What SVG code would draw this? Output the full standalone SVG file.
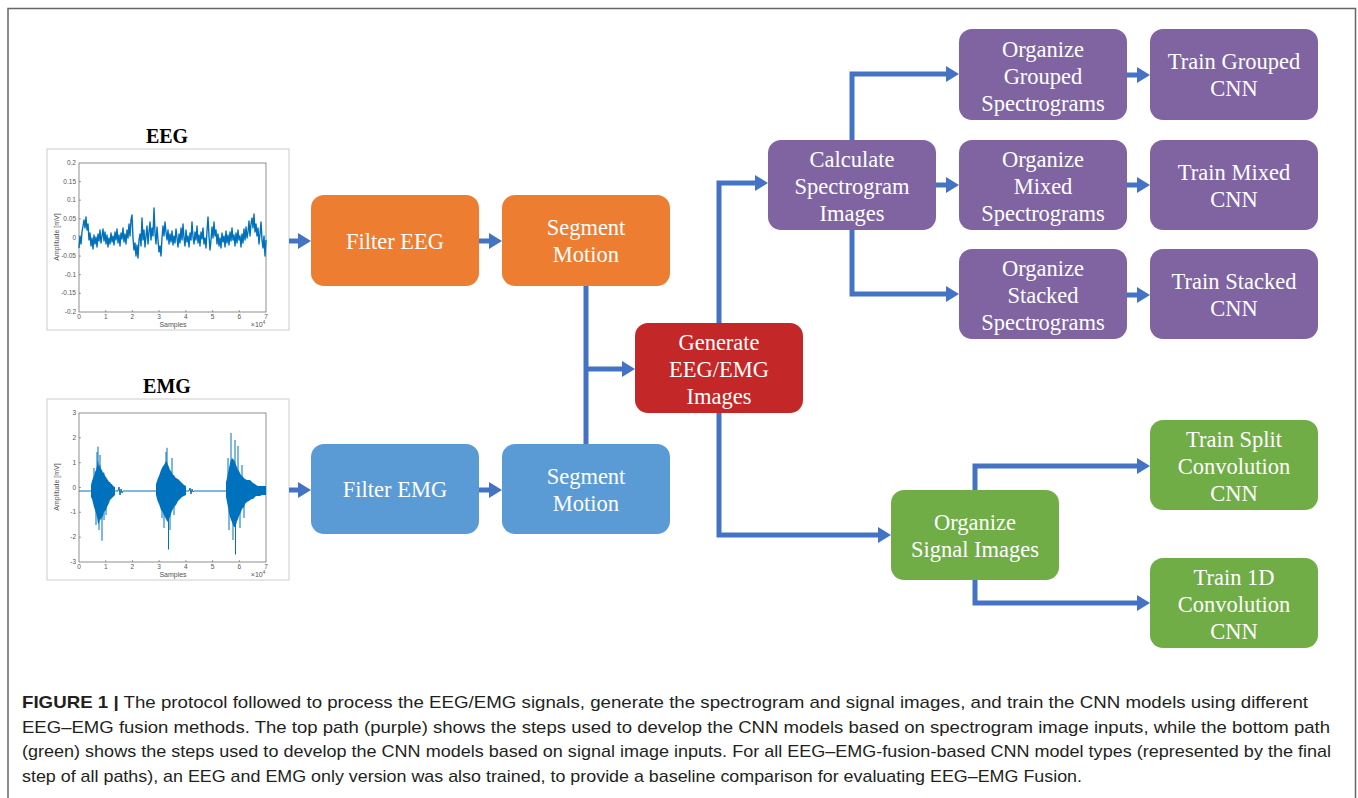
<svg xmlns="http://www.w3.org/2000/svg" width="1358" height="798" viewBox="0 0 1358 798">
<defs>
<style>
.node text{font-family:"Liberation Serif","Times New Roman",serif;font-size:22.5px;fill:#fff;text-anchor:middle}
.orange{fill:#ED7D31}.lblue{fill:#5B9BD5}.red{fill:#C42727}.purple{fill:#8064A2}.green{fill:#70AD47}
.conn path{fill:none;stroke:#4472C4;stroke-width:5;stroke-linejoin:miter}
.arr{marker-end:url(#ah)}
.tick{font-family:"Liberation Sans",Arial,sans-serif;font-size:6.5px;fill:#555}
.axl{font-family:"Liberation Sans",Arial,sans-serif;font-size:7px;fill:#555}
.ttl{font-family:"Liberation Serif","Times New Roman",serif;font-size:20px;font-weight:bold;fill:#000;text-anchor:middle}
.cap{font-family:"Liberation Sans",Arial,sans-serif;font-size:17px;fill:#231F20}
.sig{fill:none;stroke:#0072BD;stroke-width:1}
.sig2{fill:none;stroke:#0072BD;stroke-width:1.4;stroke-linejoin:round}
</style>
<marker id="ah" markerUnits="userSpaceOnUse" markerWidth="14" markerHeight="16" refX="3" refY="8" orient="auto">
<path d="M0,0 L13,8 L0,16 Z" fill="#4472C4"/>
</marker>
</defs>
<rect x="0" y="0" width="1358" height="798" fill="#fff"/>
<path d="M8,805 V8.5 H1355.5 V805" fill="none" stroke="#666" stroke-width="1.5"/>

<!-- EEG plot -->
<g id="eeg-plot">
<text class="ttl" x="167" y="143">EEG</text>
<rect x="47" y="149" width="242" height="181" fill="#fff" stroke="#ccc" stroke-width="1"/>
<rect x="79" y="163" width="187" height="149" fill="#fff" stroke="#444" stroke-width="0.6"/>
<g class="tick" text-anchor="end">
<text x="76" y="165">0.2</text><text x="76" y="183.6">0.15</text><text x="76" y="202.2">0.1</text><text x="76" y="220.8">0.05</text><text x="76" y="239.5">0</text><text x="76" y="258.1">-0.05</text><text x="76" y="276.7">-0.1</text><text x="76" y="295.3">-0.15</text><text x="76" y="314">-0.2</text>
</g>
<g class="tick" text-anchor="middle">
<text x="79" y="319">0</text><text x="105.7" y="319">1</text><text x="132.4" y="319">2</text><text x="159.1" y="319">3</text><text x="185.9" y="319">4</text><text x="212.6" y="319">5</text><text x="239.3" y="319">6</text><text x="266" y="319">7</text>
</g>
<text class="axl" x="173" y="327" text-anchor="middle">Samples</text>
<text class="axl" x="258" y="327" text-anchor="middle">×10<tspan font-size="4.5" dy="-3">4</tspan></text>
<text class="axl" transform="translate(59,237) rotate(-90)" text-anchor="middle">Amplitude [mV]</text>
<path d="M79,181.6h2M79,200.2h2M79,218.8h2M79,237.5h2M79,256.1h2M79,274.7h2M79,293.3h2M105.7,312v-2M132.4,312v-2M159.1,312v-2M185.9,312v-2M212.6,312v-2M239.3,312v-2" stroke="#444" stroke-width="0.5"/>
<polyline class="sig2" points="79,248 80,236 81,244 82,232 83,226 84,220 85,228 86,217 87,230 88,224 89,240 90,233 91,246 92,238 93,249 94,235 95,244 96,237 97,247 98,234 99,241 100,230 101,243 102,236 103,229 104,241 105,232 106,244 107,235 108,247 109,238 110,244 111,233 112,242 113,236 114,245 115,232 116,240 117,229 118,243 119,235 120,246 121,233 122,239 123,228 124,242 125,234 126,244 127,230 128,238 129,224 130,236 131,220 132,215 133,238 134,250 135,243 136,256 137,245 138,258 139,240 140,234 141,246 142,218 143,240 144,230 145,247 146,236 147,226 148,244 149,232 150,222 151,240 152,228 153,236 154,208 155,233 156,244 157,227 158,240 159,252 160,246 161,256 162,238 163,226 164,236 165,222 166,232 167,240 168,230 169,244 170,234 171,242 172,231 173,245 174,236 175,243 176,229 177,238 178,247 179,234 180,243 181,228 182,240 183,224 184,238 185,246 186,230 187,242 188,236 189,247 190,233 191,240 192,222 193,237 194,244 195,232 196,240 197,226 198,243 199,235 200,246 201,232 202,239 203,228 204,244 205,238 206,248 207,231 208,217 209,236 210,250 211,240 212,227 213,238 214,222 215,236 216,230 217,244 218,234 219,246 220,238 221,248 222,233 223,242 224,236 225,247 226,231 227,243 228,235 229,245 230,232 231,241 232,228 233,240 234,235 235,246 236,233 237,243 238,230 239,240 240,236 241,247 242,234 243,243 244,229 245,240 246,227 247,238 248,232 249,221 250,236 251,224 252,218 253,228 254,214 255,232 256,224 257,236 258,228 259,244 260,234 261,222 262,240 263,248 264,236 265,256 266,240"/>
</g>

<!-- EMG plot -->
<g id="emg-plot">
<text class="ttl" x="167" y="393">EMG</text>
<rect x="47" y="399" width="242" height="181" fill="#fff" stroke="#ccc" stroke-width="1"/>
<rect x="79" y="413" width="187" height="149" fill="#fff" stroke="#444" stroke-width="0.6"/>
<g class="tick" text-anchor="end">
<text x="76" y="415">3</text><text x="76" y="439.8">2</text><text x="76" y="464.7">1</text><text x="76" y="489.5">0</text><text x="76" y="514.3">-1</text><text x="76" y="539.2">-2</text><text x="76" y="564">-3</text>
</g>
<g class="tick" text-anchor="middle">
<text x="79" y="569">0</text><text x="105.7" y="569">1</text><text x="132.4" y="569">2</text><text x="159.1" y="569">3</text><text x="185.9" y="569">4</text><text x="212.6" y="569">5</text><text x="239.3" y="569">6</text><text x="266" y="569">7</text>
</g>
<text class="axl" x="173" y="577" text-anchor="middle">Samples</text>
<text class="axl" x="258" y="577" text-anchor="middle">×10<tspan font-size="4.5" dy="-3">4</tspan></text>
<text class="axl" transform="translate(59,487) rotate(-90)" text-anchor="middle">Amplitude [mV]</text>
<path d="M79,437.8h2M79,462.7h2M79,487.5h2M79,512.3h2M79,537.2h2M105.7,562v-2M132.4,562v-2M159.1,562v-2M185.9,562v-2M212.6,562v-2M239.3,562v-2" stroke="#444" stroke-width="0.5"/>
<path class="sig" d="M79,491 H91 M115,491 H118 L119,487 L120,495 L121,489 L122,493 L123,491 H156 M186,491 H189 L190,488 L191,494 L192,489 L193,492 L194,491 H226"/>
<g fill="#0072BD">
<polygon points="91,485 92,481 93,478 94,476 95,472 96,470 97,466 98,460 99,467 100,464 101,469 102,470 103,473 104,472 105,476 106,477 107,479 108,480 109,482 110,482 111,484 112,484 113,486 115,487 115,495 114,496 113,497 112,498 111,499 110,500 109,503 108,505 107,507 106,510 105,511 104,512 103,516 102,517 101,520 100,519 99,523 98,524 97,517 96,513 95,510 94,507 93,503 92,499 91,497"/>
<polygon points="156,484 157,481 158,478 159,476 160,473 161,470 162,468 163,466 164,465 165,463 166,461 167,462 168,465 169,467 170,470 171,471 172,473 173,475 174,475 175,477 176,478 178,479 179,480 180,481 182,483 184,485 186,486 186,495 184,496 182,497 180,499 179,500 178,501 176,505 175,506 174,507 173,509 172,511 171,514 170,517 169,519 168,522 167,521 166,519 165,517 164,515 163,513 162,511 161,510 160,507 159,504 158,502 157,499 156,495"/>
<polygon points="226,482 227,478 228,473 229,468 230,463 231,460 232,458 233,459 234,460 235,462 236,465 237,467 238,470 239,471 240,473 241,475 242,476 244,478 245,479 247,480 249,480 250,480 252,482 253,483 255,484 256,485 258,486 260,486 262,486 264,486 266,486 266,495 264,495 262,495 260,496 258,496 256,496 255,497 253,499 252,499 250,500 249,501 247,502 245,504 244,507 242,509 241,512 240,514 239,516 238,519 237,521 236,525 235,527 234,527 233,525 232,522 231,520 230,517 229,513 228,507 227,502 226,497"/>
</g>
<path class="sig" d="M98,487V446.6M97,490V452M100,487V455M102,490V540.8M96,490V525M99,490V530M104,490V520M94,488V468M106,490V515 M167,487V447.8M166,487V452M168.5,490V549.5M170,490V530M164,490V528M172,487V458M162,490V518M174,490V515 M231,487V432.9M235,487V440M235.5,490V554.5M233,490V540M238,487V446M229,490V530M240,490V528M242,488V465M244,490V518M228,488V458"/>
</g>

<!-- Connectors -->
<g id="connectors" class="conn">
<path class="arr" d="M289,241 H301"/>
<path class="arr" d="M479,241 H492"/>
<path class="arr" d="M289,490 H301"/>
<path class="arr" d="M479,490 H492"/>
<path d="M586,286 V444"/>
<path class="arr" d="M586,369 H625"/>
<path class="arr" d="M719,323 V183 H758"/>
<path class="arr" d="M719,413 V535 H881"/>
<path class="arr" d="M852,140 V74 H949"/>
<path class="arr" d="M936,185 H949"/>
<path class="arr" d="M852,230 V294 H949"/>
<path class="arr" d="M1127,75 H1140"/>
<path class="arr" d="M1127,185 H1140"/>
<path class="arr" d="M1127,295 H1140"/>
<path class="arr" d="M975,490 V466 H1140"/>
<path class="arr" d="M975,580 V603 H1140"/>
</g>

<!-- Nodes -->
<g id="filter-eeg" class="node"><rect class="orange" x="311" y="195" width="168" height="91" rx="13"/><text x="395" y="248.5">Filter EEG</text></g>
<g id="segment-eeg" class="node"><rect class="orange" x="502" y="195" width="168" height="91" rx="13"/><text x="586" y="235">Segment</text><text x="586" y="262">Motion</text></g>
<g id="filter-emg" class="node"><rect class="lblue" x="311" y="444" width="168" height="90" rx="13"/><text x="395" y="497">Filter EMG</text></g>
<g id="segment-emg" class="node"><rect class="lblue" x="502" y="444" width="168" height="90" rx="13"/><text x="586" y="483.5">Segment</text><text x="586" y="510.5">Motion</text></g>
<g id="generate" class="node"><rect class="red" x="635" y="323" width="168" height="90" rx="13"/><text x="719" y="350">Generate</text><text x="719" y="377">EEG/EMG</text><text x="719" y="404">Images</text></g>
<g id="calculate" class="node"><rect class="purple" x="768" y="140" width="168" height="90" rx="13"/><text x="852" y="167">Calculate</text><text x="852" y="194">Spectrogram</text><text x="852" y="221">Images</text></g>
<g id="org-grouped" class="node"><rect class="purple" x="959" y="29" width="168" height="91" rx="13"/><text x="1043" y="56.5">Organize</text><text x="1043" y="83.5">Grouped</text><text x="1043" y="110.5">Spectrograms</text></g>
<g id="org-mixed" class="node"><rect class="purple" x="959" y="140" width="168" height="90" rx="13"/><text x="1043" y="167">Organize</text><text x="1043" y="194">Mixed</text><text x="1043" y="221">Spectrograms</text></g>
<g id="org-stacked" class="node"><rect class="purple" x="959" y="249" width="168" height="90" rx="13"/><text x="1043" y="276">Organize</text><text x="1043" y="303">Stacked</text><text x="1043" y="330">Spectrograms</text></g>
<g id="train-grouped" class="node"><rect class="purple" x="1150" y="29" width="168" height="91" rx="13"/><text x="1234" y="69">Train Grouped</text><text x="1234" y="96">CNN</text></g>
<g id="train-mixed" class="node"><rect class="purple" x="1150" y="140" width="168" height="90" rx="13"/><text x="1234" y="179.5">Train Mixed</text><text x="1234" y="206.5">CNN</text></g>
<g id="train-stacked" class="node"><rect class="purple" x="1150" y="249" width="168" height="90" rx="13"/><text x="1234" y="288.5">Train Stacked</text><text x="1234" y="315.5">CNN</text></g>
<g id="org-signal" class="node"><rect class="green" x="891" y="490" width="168" height="90" rx="13"/><text x="975" y="529.5">Organize</text><text x="975" y="556.5">Signal Images</text></g>
<g id="train-split" class="node"><rect class="green" x="1150" y="420" width="168" height="90" rx="13"/><text x="1234" y="447">Train Split</text><text x="1234" y="474">Convolution</text><text x="1234" y="501">CNN</text></g>
<g id="train-1d" class="node"><rect class="green" x="1150" y="558" width="168" height="90" rx="13"/><text x="1234" y="585">Train 1D</text><text x="1234" y="612">Convolution</text><text x="1234" y="639">CNN</text></g>

<!-- Caption -->
<g id="caption" class="cap">
<text x="22" y="708" textLength="1286" lengthAdjust="spacingAndGlyphs"><tspan font-weight="bold">FIGURE 1 |</tspan> The protocol followed to process the EEG/EMG signals, generate the spectrogram and signal images, and train the CNN models using different</text>
<text x="22" y="733" textLength="1308" lengthAdjust="spacingAndGlyphs">EEG–EMG fusion methods. The top path (purple) shows the steps used to develop the CNN models based on spectrogram image inputs, while the bottom path</text>
<text x="22" y="757" textLength="1309" lengthAdjust="spacingAndGlyphs">(green) shows the steps used to develop the CNN models based on signal image inputs. For all EEG–EMG-fusion-based CNN model types (represented by the final</text>
<text x="22" y="782" textLength="1060" lengthAdjust="spacingAndGlyphs">step of all paths), an EEG and EMG only version was also trained, to provide a baseline comparison for evaluating EEG–EMG Fusion.</text>
</g>
</svg>
